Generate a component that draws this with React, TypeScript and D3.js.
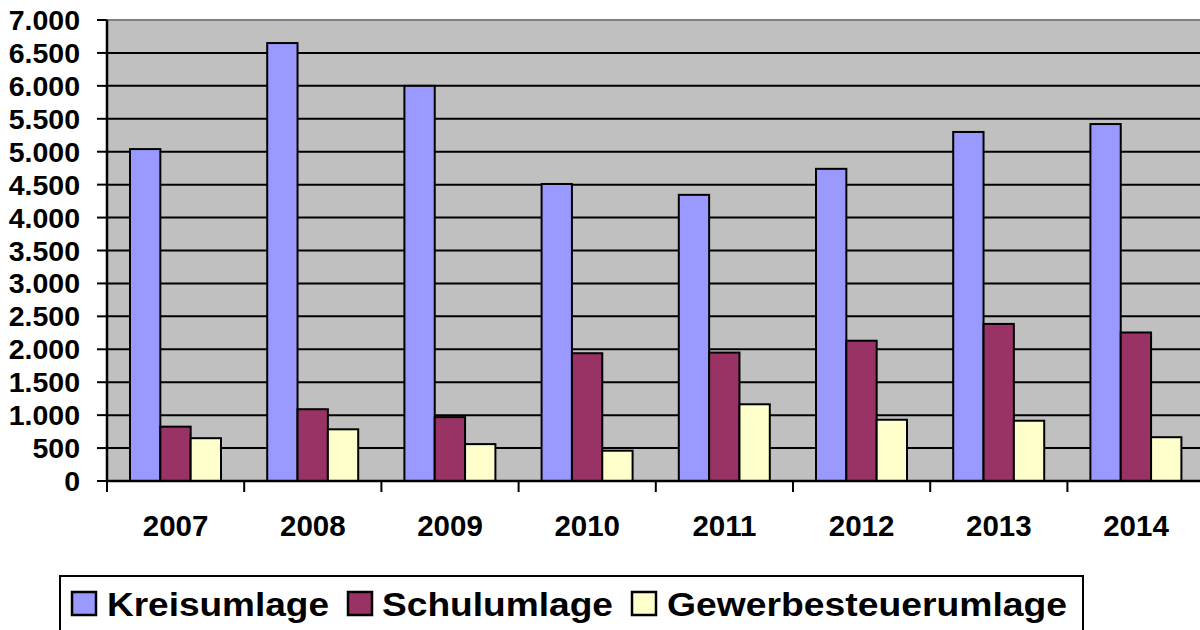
import React from "react";
import * as d3 from "d3";

const years = ["2007", "2008", "2009", "2010", "2011", "2012", "2013", "2014"];
const seriesNames = ["Kreisumlage", "Schulumlage", "Gewerbesteuerumlage"];
const kreisumlage = [5040, 6650, 6000, 4510, 4345, 4740, 5300, 5420];
const schulumlage = [825, 1090, 970, 1940, 1950, 2130, 2385, 2255];
const gewerbesteuerumlage = [650, 785, 560, 460, 1165, 930, 915, 665];
const yTicks = [0, 500, 1000, 1500, 2000, 2500, 3000, 3500, 4000, 4500, 5000, 5500, 6000, 6500, 7000];
const colors = ["#9999FF", "#993366", "#FFFFCC"];

const W = 1200;
const H = 630;
const left = 107;
const top = 20;
const bottom = 481;
const bandW = 137.2;

export default function App() {
  const values = [kreisumlage, schulumlage, gewerbesteuerumlage];
  const x = d3.scaleBand<string>().domain(years).range([left, left + bandW * years.length]).padding(0);
  const inner = d3.scaleBand<string>().domain(seriesNames).range([23, 23 + 91]).padding(0);
  const y = d3.scaleLinear().domain([0, 7000]).range([bottom, top]);
  const fmt = (v: number) => d3.format(",")(v).replace(/,/g, ".");
  const font = "'Liberation Sans', Arial, sans-serif";

  const legendItems = [
    { swatch: 72, textX: 107, textW: 222 },
    { swatch: 348, textX: 382, textW: 231 },
    { swatch: 632, textX: 667, textW: 400 },
  ];

  return (
    <svg width={W} height={H} style={{ position: "absolute", left: 0, top: 0, background: "#fff" }}>
      {/* plot background */}
      <rect x={left} y={top} width={W - left} height={bottom - top} fill="#C0C0C0" />
      <line x1={left} x2={W} y1={top} y2={top} stroke="#808080" strokeWidth={2} />
      {/* gridlines */}
      {yTicks.filter((t) => t > 0 && t < 7000).map((t) => (
        <line key={t} x1={left} x2={W} y1={y(t)} y2={y(t)} stroke="#000" strokeWidth={2} />
      ))}
      {/* bars */}
      {years.map((yr, i) => (
        <g key={yr}>
          {seriesNames.map((s, j) => (
            <rect
              key={s}
              x={(x(yr) as number) + (inner(s) as number)}
              y={y(values[j][i])}
              width={inner.bandwidth()}
              height={bottom - y(values[j][i])}
              fill={colors[j]}
              stroke="#000"
              strokeWidth={2}
            />
          ))}
        </g>
      ))}
      {/* axes */}
      <line x1={left} x2={left} y1={top} y2={bottom} stroke="#000" strokeWidth={2.5} />
      <line x1={left} x2={W} y1={bottom} y2={bottom} stroke="#000" strokeWidth={2.5} />
      {yTicks.map((t) => (
        <g key={t}>
          <line x1={97} x2={left} y1={y(t)} y2={y(t)} stroke="#000" strokeWidth={2} />
          <text
            x={80}
            y={y(t) + 10}
            textAnchor="end"
            fontFamily={font}
            fontWeight="bold"
            fontSize={28.5}
            fill="#000"
          >
            {fmt(t)}
          </text>
        </g>
      ))}
      {years.map((yr) => (
        <line key={"t" + yr} x1={x(yr) as number} x2={x(yr) as number} y1={bottom} y2={bottom + 11} stroke="#000" strokeWidth={2} />
      ))}
      {years.map((yr) => (
        <text
          key={"l" + yr}
          x={(x(yr) as number) + x.bandwidth() / 2}
          y={536}
          textAnchor="middle"
          fontFamily={font}
          fontWeight="bold"
          fontSize={29.5}
          fill="#000"
        >
          {yr}
        </text>
      ))}
      {/* legend */}
      <rect x={60} y={576} width={1023} height={80} fill="#fff" stroke="#000" strokeWidth={2} />
      {seriesNames.map((s, j) => (
        <g key={"lg" + s}>
          <rect x={legendItems[j].swatch} y={592} width={24} height={23} fill={colors[j]} stroke="#000" strokeWidth={2.5} />
          <text
            x={legendItems[j].textX}
            y={616}
            fontFamily={font}
            fontWeight="bold"
            fontSize={34}
            textLength={legendItems[j].textW}
            lengthAdjust="spacingAndGlyphs"
            fill="#000"
          >
            {s}
          </text>
        </g>
      ))}
    </svg>
  );
}
